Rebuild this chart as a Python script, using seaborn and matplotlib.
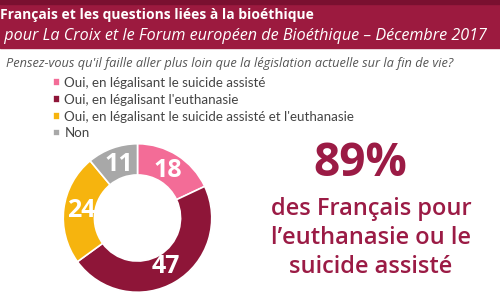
import matplotlib.pyplot as plt
import seaborn as sns
from matplotlib.patches import Rectangle

# données du sondage
labels = ["Oui, en légalisant le suicide assisté",
          "Oui, en légalisant l'euthanasie",
          "Oui, en légalisant le suicide assisté et l'euthanasie",
          "Non"]
values = [18, 47, 24, 11]
colors = ["#F36C97", "#8E1538", "#F6B40E", "#A8A8A8"]

title = "Français et les questions liées à la bioéthique"
subtitle = " pour La Croix et le Forum européen de Bioéthique – Décembre 2017"
question = "Pensez-vous qu'il faille aller plus loin que la législation actuelle sur la fin de vie?"
big_number = "89%"
big_text = "des Français pour\nl’euthanasie ou le\nsuicide assisté"

sns.set_theme(style="white")
plt.rcParams['font.family'] = ['Open Sans', 'DejaVu Sans']

fig = plt.figure(figsize=(5, 3), dpi=100)
fig.patch.set_facecolor("white")

# bandeau du titre
fig.add_artist(Rectangle((0, 1 - 48/300), 1, 48/300, transform=fig.transFigure,
                         color="#9C1A3F", zorder=0))
fig.add_artist(Rectangle((0, 1 - 4/300), 1, 4/300, transform=fig.transFigure,
                         color="#7A1030", zorder=0))
fig.text(0.0, 1 - 15/300, title, color="white", fontsize=10, fontweight="bold",
         va="center", ha="left")
fig.text(0.0, 1 - 36/300, subtitle, color="white", fontsize=11.6, style="italic",
         va="center", ha="left")

fig.text(0.012, 1 - 63/300, question, color="#555555", fontsize=9.2, style="italic",
         va="center", ha="left")

# anneau
ax = fig.add_axes([62.5/500, 1 - 293/300, 150/500, 150/300])
wedges, texts, autotexts = ax.pie(values, colors=colors, startangle=90, counterclock=False,
                                  radius=1, autopct=lambda p: f"{p:.0f}", pctdistance=0.76,
                                  wedgeprops=dict(width=0.42, edgecolor="white", linewidth=1.2),
                                  textprops=dict(color="white", fontsize=18, fontweight="bold"))
ax.set_xlim(-1.01, 1.01)
ax.set_ylim(-1.01, 1.01)
ax.set_aspect("equal")
ax.axis("off")

fig.legend(wedges, labels, loc="upper left", bbox_to_anchor=(41/500, 1 - 65/300),
           frameon=False, handlelength=0.5, handleheight=0.5, handletextpad=0.35,
           labelspacing=0.36, labelcolor="#444444",
           prop={'family': ['Lato', 'DejaVu Sans'], 'size': 9.6})

fig.text(360/500, 1 - 163/300, big_number, color="#9B1B45", fontsize=33,
         fontweight="bold", ha="center", va="center")
fig.text(371/500, 1 - 238/300, big_text, color="#9B1B45", fontsize=17,
         fontweight="semibold", ha="center", va="center", linespacing=1.3)

fig.savefig("out.png", dpi=100)
